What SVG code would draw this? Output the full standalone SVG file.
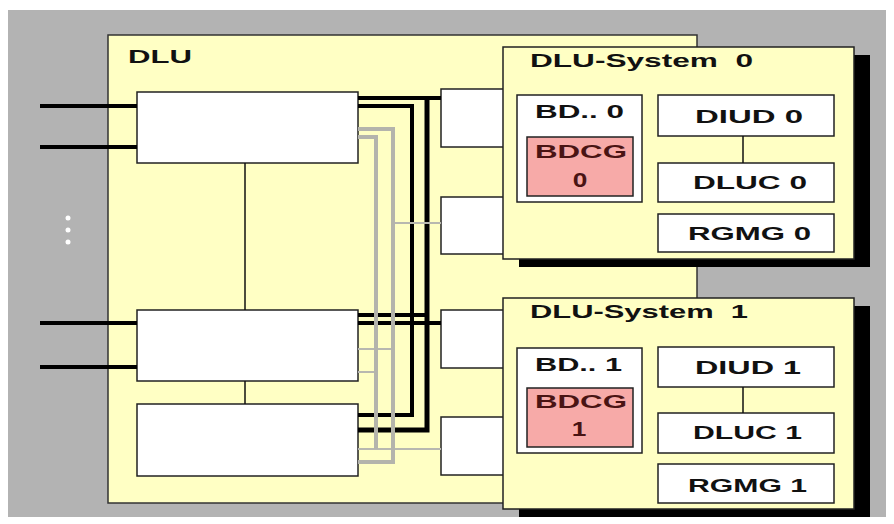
<svg xmlns="http://www.w3.org/2000/svg" width="894" height="524" viewBox="0 0 894 524">
<style>
.lbl{font-family:"Liberation Sans",Arial,sans-serif;font-weight:bold;fill:#111;font-size:19px;}
.box{fill:#ffffff;stroke:#222;stroke-width:1.5;}
.sys{fill:#ffffc4;stroke:#222;stroke-width:1.5;}
.shadow{fill:#000;}
.pink{fill:#f7aaa8;stroke:#222;stroke-width:1.5;}
.blk{fill:none;stroke:#000;stroke-width:4;}
.blk5{fill:none;stroke:#000;stroke-width:5;}
.gry{fill:none;stroke:#b4b4ac;stroke-width:4;}
.gryt{fill:none;stroke:#b8b8b0;stroke-width:2;}
.thin{fill:none;stroke:#111;stroke-width:1.5;}
.red{fill:#4a1414;}
.num{font-family:"Liberation Sans",Arial,sans-serif;font-weight:bold;fill:#4a1414;font-size:21px;text-anchor:middle;}
</style>
<rect x="0" y="0" width="894" height="524" fill="#ffffff"/>
<rect x="8" y="10" width="878" height="507" fill="#b3b3b3"/>

<g id="dlu">
<rect x="108" y="35" width="589" height="468" fill="#ffffc4" stroke="#333" stroke-width="1.5"/>
<text class="lbl" x="128" y="63" textLength="64" lengthAdjust="spacingAndGlyphs">DLU</text>
</g>

<g id="dots" fill="#ffffff">
<circle cx="68" cy="218" r="2.5"/>
<circle cx="68" cy="230" r="2.5"/>
<circle cx="68" cy="242" r="2.5"/>
</g>

<g id="boxA"><rect class="box" x="137" y="92" width="221" height="71"/></g>
<g id="boxB"><rect class="box" x="137" y="310" width="221" height="71"/></g>
<g id="boxC"><rect class="box" x="137" y="404" width="221" height="72"/></g>

<g id="port1"><rect class="box" x="441" y="89" width="80" height="58"/></g>
<g id="port2"><rect class="box" x="441" y="197" width="80" height="57"/></g>
<g id="port3"><rect class="box" x="441" y="310" width="80" height="58"/></g>
<g id="port4"><rect class="box" x="441" y="417" width="80" height="58"/></g>

<g id="connectors">
<line class="blk" x1="40" y1="106" x2="137" y2="106"/>
<line class="blk" x1="40" y1="147" x2="137" y2="147"/>
<line class="blk" x1="40" y1="323" x2="137" y2="323"/>
<line class="blk" x1="40" y1="367" x2="137" y2="367"/>
<line class="thin" x1="245" y1="163" x2="245" y2="310"/>
<line class="thin" x1="245" y1="381" x2="245" y2="404"/>
<line class="blk" x1="358" y1="98" x2="441" y2="98"/>
<polyline class="blk5" points="427,98 427,430 358,430"/>
<polyline class="blk" points="358,106 412,106 412,415 358,415"/>
<line class="blk" x1="358" y1="315" x2="427" y2="315"/>
<line class="blk" x1="358" y1="323" x2="441" y2="323"/>
<line class="gryt" x1="393" y1="223" x2="441" y2="223"/>
<line class="gryt" x1="358" y1="349" x2="393" y2="349"/>
<line class="gryt" x1="358" y1="372" x2="376" y2="372"/>
<line class="gryt" x1="358" y1="449" x2="441" y2="449"/>
<polyline class="gry" points="358,129 393,129 393,462 358,462"/>
<polyline class="gry" points="358,137 376,137 376,449"/>
</g>

<g id="system0">
<rect class="shadow" x="519" y="55" width="351" height="212"/>
<rect class="sys" x="503" y="47" width="351" height="212"/>
<text class="lbl" x="530" y="67" textLength="223" lengthAdjust="spacingAndGlyphs" xml:space="preserve">DLU-System  0</text>
</g>
<g id="bd0">
<rect class="box" x="517" y="95" width="125" height="107"/>
<text class="lbl" x="535" y="118" textLength="89" lengthAdjust="spacingAndGlyphs">BD.. 0</text>
</g>
<g id="bdcg0">
<rect class="pink" x="527" y="137" width="106" height="59"/>
<text class="lbl red" x="535" y="158" textLength="92" lengthAdjust="spacingAndGlyphs">BDCG</text>
<text class="num" transform="translate(580,187) scale(1.25,1)">0</text>
</g>
<g id="diud0">
<rect class="box" x="658" y="95" width="176" height="41"/>
<text class="lbl" x="695" y="123" textLength="108" lengthAdjust="spacingAndGlyphs">DIUD 0</text>
</g>
<g id="dluc0">
<rect class="box" x="658" y="163" width="176" height="39"/>
<text class="lbl" x="693" y="189" textLength="114" lengthAdjust="spacingAndGlyphs">DLUC 0</text>
</g>
<g id="rgmg0">
<rect class="box" x="658" y="214" width="176" height="38"/>
<text class="lbl" x="688" y="240" textLength="123" lengthAdjust="spacingAndGlyphs">RGMG 0</text>
</g>
<g id="link0"><line class="thin" x1="743" y1="136" x2="743" y2="163"/></g>

<g id="system1">
<rect class="shadow" x="519" y="306" width="351" height="211"/>
<rect class="sys" x="503" y="298" width="351" height="211"/>
<text class="lbl" x="530" y="318" textLength="218" lengthAdjust="spacingAndGlyphs" xml:space="preserve">DLU-System  1</text>
</g>
<g id="bd1">
<rect class="box" x="517" y="348" width="125" height="105"/>
<text class="lbl" x="535" y="371" textLength="87" lengthAdjust="spacingAndGlyphs">BD.. 1</text>
</g>
<g id="bdcg1">
<rect class="pink" x="527" y="388" width="106" height="59"/>
<text class="lbl red" x="535" y="408" textLength="92" lengthAdjust="spacingAndGlyphs">BDCG</text>
<text class="num" transform="translate(579,436) scale(1.25,1)">1</text>
</g>
<g id="diud1">
<rect class="box" x="658" y="347" width="176" height="40"/>
<text class="lbl" x="695" y="374" textLength="106" lengthAdjust="spacingAndGlyphs">DIUD 1</text>
</g>
<g id="dluc1">
<rect class="box" x="658" y="413" width="176" height="40"/>
<text class="lbl" x="693" y="439" textLength="109" lengthAdjust="spacingAndGlyphs">DLUC 1</text>
</g>
<g id="rgmg1">
<rect class="box" x="658" y="464" width="176" height="39"/>
<text class="lbl" x="688" y="492" textLength="119" lengthAdjust="spacingAndGlyphs">RGMG 1</text>
</g>
<g id="link1"><line class="thin" x1="743" y1="387" x2="743" y2="413"/></g>
</svg>
